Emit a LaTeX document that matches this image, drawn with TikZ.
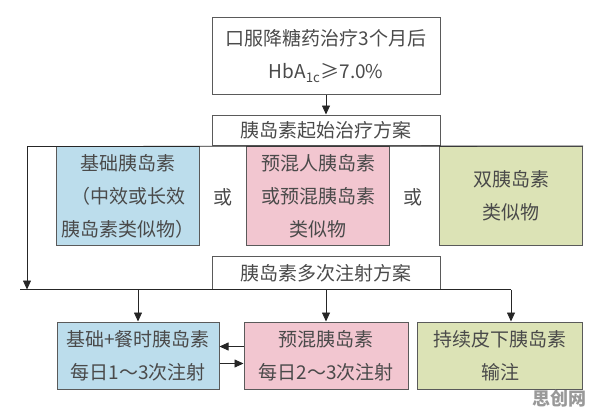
\documentclass[tikz,border=0pt]{standalone}
\usepackage{fontspec}
\setmainfont{Noto Sans CJK SC}
\usetikzlibrary{arrows.meta}
\definecolor{edge}{HTML}{5A5A5A}
\definecolor{txt}{HTML}{4A4A4A}
\definecolor{bluefill}{HTML}{BCDDEC}
\definecolor{pinkfill}{HTML}{F2C6D0}
\definecolor{greenfill}{HTML}{DCE3B6}
\begin{document}
\begin{tikzpicture}[x=1pt,y=-1pt,
  box/.style={draw=edge,line width=1pt,text=txt,align=center,inner sep=0pt,
    font=\fontsize{19}{33}\selectfont},
  arr/.style={-{Triangle[length=9pt,width=8pt]},draw=black!85,line width=0.8pt},
  ln/.style={draw=black!85,line width=0.8pt}]
\useasboundingbox (0,0) rectangle (596,418);
% upper part
\node [box, minimum width=228, minimum height=77] (oral) at (326,56) {口服降糖药治疗3个月后\\HbA\textsubscript{1c}≥7.0\%};
\node [box, minimum width=228, minimum height=30] (start) at (326,130) {胰岛素起始治疗方案};
\node [box, fill=bluefill, minimum width=143, minimum height=99] (basal) at (128,196) {基础胰岛素\\（中效或长效\\胰岛素类似物）};
\node [box, fill=pinkfill, minimum width=143, minimum height=99] (premix) at (318,196) {预混人胰岛素\\或预混胰岛素\\类似物};
\node [box, fill=greenfill, minimum width=143, minimum height=99] (analog) at (511,196) {双胰岛素\\类似物};
\node [text=txt, font=\fontsize{19}{22}\selectfont] (or1) at (223,197) {或};
\node [text=txt, font=\fontsize{19}{22}\selectfont] (or2) at (413,197) {或};
% lower part
\node [box, minimum width=228, minimum height=33] (multi) at (326,273) {胰岛素多次注射方案};
\node [box, fill=bluefill, minimum width=162, minimum height=67] (bolus) at (138,355.5) {基础+餐时胰岛素\\每日1～3次注射};
\node [box, fill=pinkfill, minimum width=164, minimum height=67] (twice) at (326,355.5) {预混胰岛素\\每日2～3次注射};
\node [box, fill=greenfill, minimum width=165, minimum height=67] (pump) at (500,355.5) {持续皮下胰岛素\\输注};
\node [text=black!40, font=\bfseries\fontsize{18}{20}\selectfont] (mark) at (559,399) {思创网};
% connectors
\coordinate (tl) at (27,146.5);
\coordinate (bl) at (27,289.5);
\coordinate (b0) at (20,289.5);
\coordinate (b3) at (511,289.5);
\draw [arr] (oral) -- (start);
\draw [ln] (tl) -- (analog.north east);
\draw [arr] (tl) -- (bl);
\draw [ln] (b0) -- (b3);
\draw [arr] (bolus.north |- bl) -- (bolus.north);
\draw [arr] (multi.south) -- (twice.north);
\draw [arr] (b3) -- (b3 |- pump.north);
\draw [arr] ([yshift=9]twice.west) -- ([yshift=9]bolus.east);
\draw [arr] ([yshift=-8]bolus.east) -- ([yshift=-8]twice.west);
\end{tikzpicture}
\end{document}
